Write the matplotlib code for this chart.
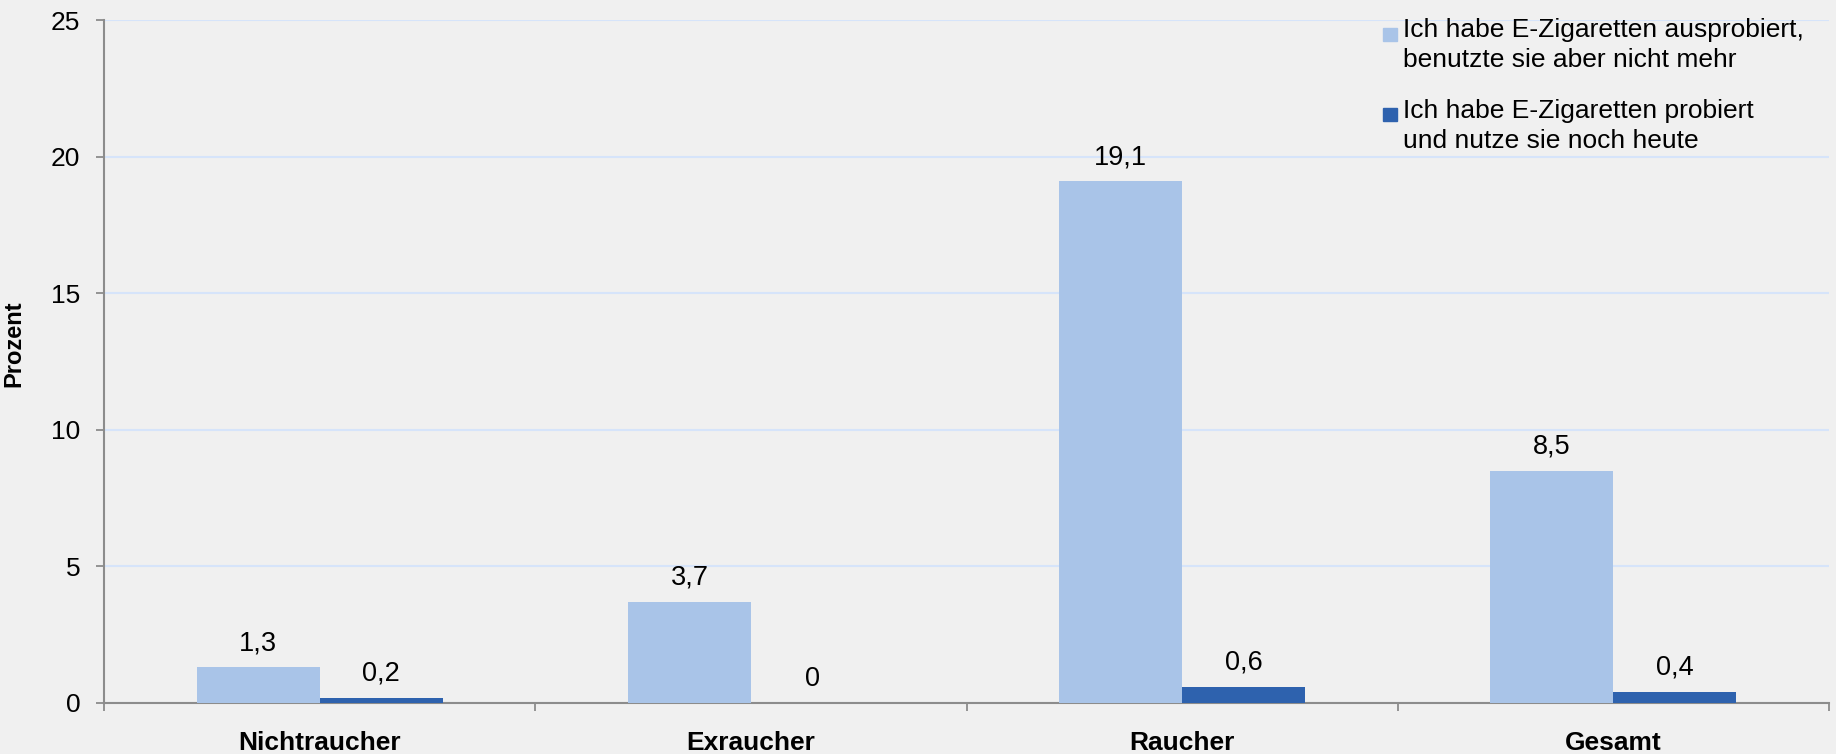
import matplotlib.pyplot as plt
import numpy as np
from matplotlib.patches import Rectangle

plt.rcParams["font.family"] = ["Liberation Sans", "DejaVu Sans"]

# Data
categories = ["Nichtraucher", "Exraucher", "Raucher", "Gesamt"]
tried_quit = [1.3, 3.7, 19.1, 8.5]
tried_still = [0.2, 0.0, 0.6, 0.4]
series_labels = [
    "Ich habe E-Zigaretten ausprobiert,\nbenutzte sie aber nicht mehr",
    "Ich habe E-Zigaretten probiert\nund nutze sie noch heute",
]
colors = ["#A9C4E8", "#2E62AE"]
bg = "#F0F0F0"

W, H = 1836, 754
fig = plt.figure(figsize=(W / 100, H / 100), dpi=100, facecolor=bg)
ax = fig.add_axes([104 / W, 1 - 703 / H, 1725 / W, 683 / H], facecolor=bg)

x = np.arange(len(categories))
bw = 0.285
bars1 = ax.bar(x - bw, tried_quit, bw, align="edge", color=colors[0], zorder=3)
bars2 = ax.bar(x, tried_still, bw, align="edge", color=colors[1], zorder=3)


def fmt(v):
    return f"{v:g}".replace(".", ",")


for bars, vals in [(bars1, tried_quit), (bars2, tried_still)]:
    for b, v in zip(bars, vals):
        ax.annotate(fmt(v), (b.get_x() + b.get_width() / 2, v), xytext=(0, 8),
                    textcoords="offset points", ha="center", va="bottom",
                    fontsize=19.5, color="black", zorder=4)

# Axes styling
ax.set_xlim(-0.5, len(categories) - 0.5)
ax.set_ylim(0, 25)
ax.set_yticks(range(0, 26, 5))
ax.tick_params(axis="y", length=6, width=1.3, color="#8C8C8C", pad=11, labelsize=19)
ax.set_xticks(x)
ax.set_xticklabels(categories, fontsize=19, fontweight="bold")
ax.tick_params(axis="x", which="major", length=0, pad=20)
ax.set_xticks(np.arange(-0.5, len(categories)), minor=True)
ax.tick_params(axis="x", which="minor", length=6, width=1.3, color="#8C8C8C")

for s in ["top", "right"]:
    ax.spines[s].set_visible(False)
for s in ["left", "bottom"]:
    ax.spines[s].set_color("#8C8C8C")
    ax.spines[s].set_linewidth(1.5)

ax.yaxis.grid(True, color="#D6E4FA", linewidth=1.5, zorder=0)
ax.set_axisbelow(True)

ax.set_ylabel("Prozent", fontsize=17, fontweight="bold")
ax.yaxis.set_label_coords((25 - 104) / 1725, (703 - 344) / 683)

# Legend (Excel style: marker aligned to first text line)
legend_rows = [(28, 18), (108, 99)]
for (sq_top, txt_top), lab, col in zip(legend_rows, series_labels, colors):
    fig.patches.append(Rectangle((1383 / W, 1 - (sq_top + 13) / H), 14 / W, 13 / H,
                                 transform=fig.transFigure, color=col))
    fig.text(1403 / W, 1 - txt_top / H, lab, ha="left", va="top", fontsize=19,
             linespacing=1.29, color="black")

fig.savefig("out.png", dpi=100, facecolor=bg)
